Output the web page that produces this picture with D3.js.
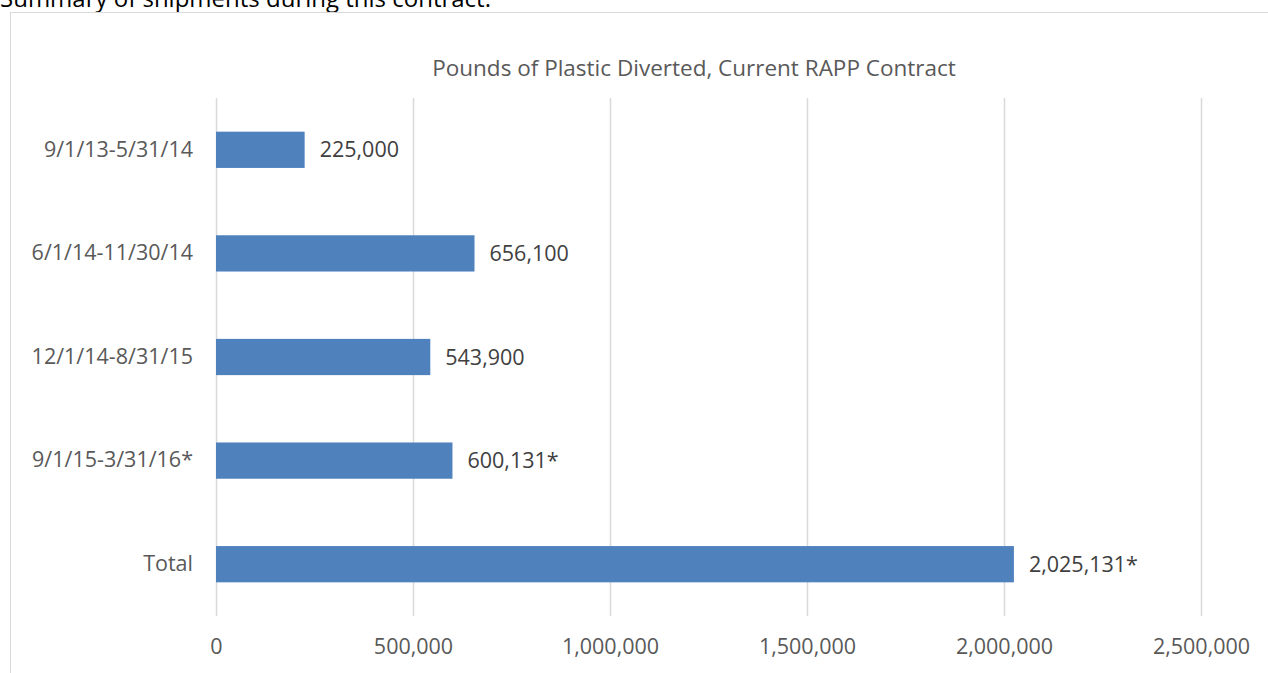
<!DOCTYPE html>
<html>
<head>
<meta charset="utf-8">
<script src="https://cdn.jsdelivr.net/npm/d3@7"></script>
<style>
  body { margin: 0; background: #fff; overflow: hidden; }
  svg { display: block; font-family: "Open Sans", sans-serif; }
</style>
</head>
<body>
<svg id="chart" width="1268" height="673"></svg>
<script>
// chart data
const periods = ['9/1/13-5/31/14', '6/1/14-11/30/14', '12/1/14-8/31/15', '9/1/15-3/31/16*', 'Total'];
const pounds = [225000, 656100, 543900, 600131, 2025131];
const valueLabels = ['225,000', '656,100', '543,900', '600,131*', '2,025,131*'];
const xTicks = [0, 500000, 1000000, 1500000, 2000000, 2500000];

const svg = d3.select('#chart');
const margin = { left: 216, right: 67, top: 98, bottom: 57 };
const width = +svg.attr('width');
const height = +svg.attr('height');
const labelSize = 21.5;

// text cut off above the chart frame (as in the source document)
svg.append('text')
    .attr('x', 0)
    .attr('y', 7)
    .attr('font-size', 24)
    .attr('fill', '#000')
    .text('Summary of shipments during this contract.');

// chart frame
svg.append('rect')
    .attr('x', 10.5)
    .attr('y', 12.5)
    .attr('width', width)
    .attr('height', height)
    .attr('fill', 'none')
    .attr('stroke', '#d9d9d9');

const xScale = d3.scaleLinear()
    .domain([0, 2500000])
    .range([margin.left, width - margin.right]);

const yScale = d3.scaleBand()
    .domain(periods)
    .range([margin.top, height - margin.bottom])
    .paddingInner(0.65)
    .paddingOuter(0.325);

// gridlines
svg.append('g')
    .selectAll('line').data(xTicks)
    .enter().append('line')
      .attr('x1', d => Math.round(xScale(d)) + 0.5)
      .attr('x2', d => Math.round(xScale(d)) + 0.5)
      .attr('y1', margin.top)
      .attr('y2', height - margin.bottom)
      .attr('stroke', '#d9d9d9')
      .attr('stroke-width', 1.5);

// x axis
const xAxis = d3.axisBottom(xScale)
    .tickValues(xTicks)
    .tickFormat(d3.format(','))
    .tickSize(0)
    .tickPadding(23);
const xAxisG = svg.append('g')
    .attr('transform', `translate(0,${height - margin.bottom})`)
    .call(xAxis);
xAxisG.select('.domain').remove();
xAxisG.selectAll('text').attr('font-size', labelSize).attr('fill', '#595959').attr('font-family', '"Open Sans", sans-serif');

// y axis
const yAxis = d3.axisLeft(yScale).tickSize(0).tickPadding(23);
const yAxisG = svg.append('g')
    .attr('transform', `translate(${margin.left},0)`)
    .call(yAxis);
yAxisG.select('.domain').remove();
yAxisG.selectAll('text').attr('font-size', labelSize).attr('fill', '#595959').attr('font-family', '"Open Sans", sans-serif');

// bars
svg.append('g')
    .selectAll('rect').data(periods)
    .enter().append('rect')
      .attr('x', xScale(0))
      .attr('y', d => yScale(d))
      .attr('width', (d, i) => xScale(pounds[i]) - xScale(0))
      .attr('height', yScale.bandwidth())
      .attr('fill', '#4f81bd');

// value labels
svg.append('g')
    .selectAll('text').data(periods)
    .enter().append('text')
      .attr('x', (d, i) => xScale(pounds[i]) + 15)
      .attr('y', d => yScale(d) + yScale.bandwidth() / 2)
      .attr('dy', '0.35em')
      .attr('font-size', labelSize)
      .attr('fill', '#404040')
      .text((d, i) => valueLabels[i]);

// title
svg.append('text')
    .attr('x', 694)
    .attr('y', 68)
    .attr('dy', '0.35em')
    .attr('text-anchor', 'middle')
    .attr('font-size', 22.5)
    .attr('fill', '#595959')
    .text('Pounds of Plastic Diverted, Current RAPP Contract');
</script>
</body>
</html>
